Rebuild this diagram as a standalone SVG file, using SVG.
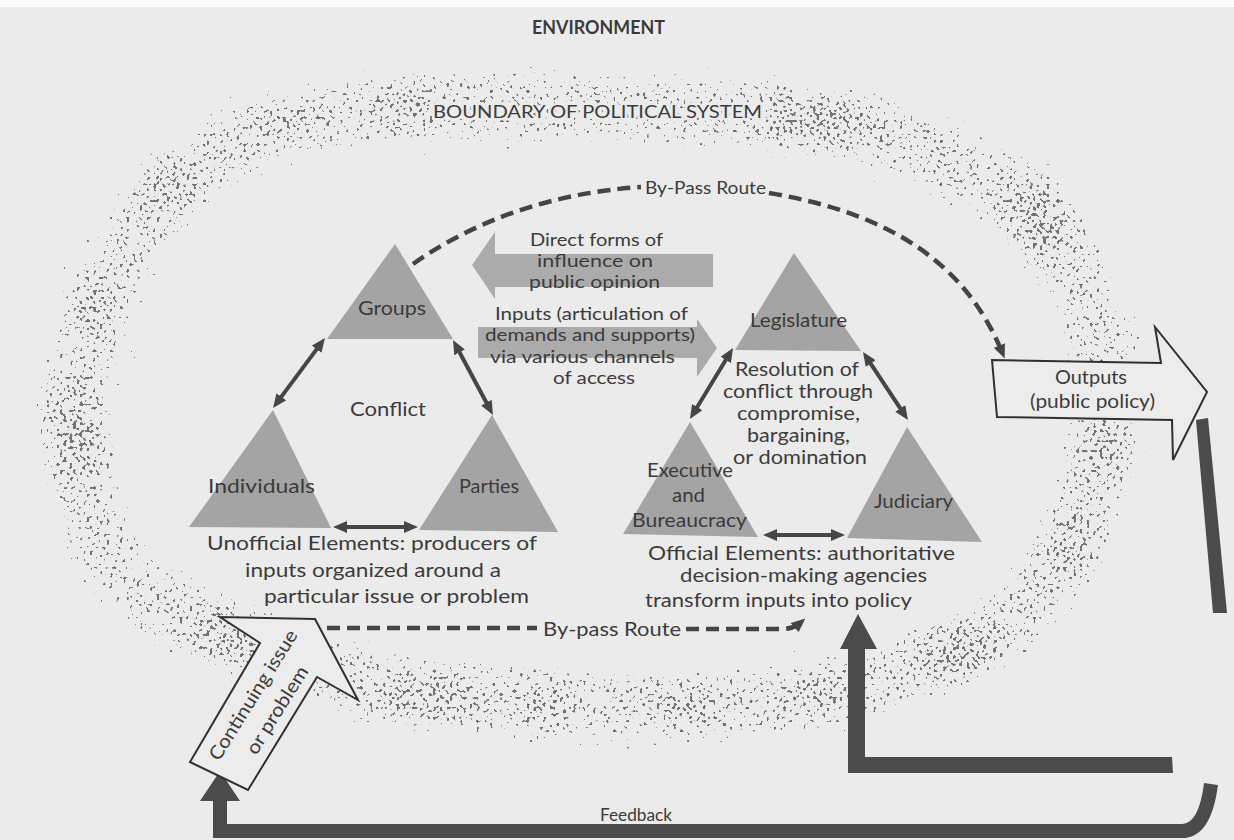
<svg xmlns="http://www.w3.org/2000/svg" width="1234" height="840" viewBox="0 0 1234 840">
<defs>
<style>
.t{font-family:Lato,"Open Sans","Liberation Sans",sans-serif;fill:#3b3b3b;font-size:19px}
.tri{fill:#a4a4a4}
.garr{fill:#ababab}
.dbl{stroke:#464646;stroke-width:4;fill:none;marker-start:url(#ah);marker-end:url(#ah)}
.dash{stroke:#444;stroke-width:4.5;fill:none;stroke-dasharray:13 7}
.hollow{fill:#ececec;stroke:#303030;stroke-width:2;stroke-linejoin:miter}
.dark{fill:#4b4b4b}
.ko{paint-order:stroke;stroke:#ebebeb;stroke-width:5px;stroke-linejoin:round}
</style>
<marker id="ah" markerUnits="userSpaceOnUse" markerWidth="14" markerHeight="12" viewBox="0 0 14 12" refX="7" refY="6" orient="auto-start-reverse">
<path d="M0,0 L14,6 L0,12 Z" fill="#464646"/>
</marker>
<marker id="ahd" markerUnits="userSpaceOnUse" markerWidth="14" markerHeight="12" viewBox="0 0 14 12" refX="7" refY="6" orient="auto">
<path d="M0,0 L14,6 L0,12 Z" fill="#444"/>
</marker>
<filter id="stip" filterUnits="userSpaceOnUse" primitiveUnits="userSpaceOnUse" x="0" y="0" width="1234" height="840">
<feGaussianBlur in="SourceAlpha" stdDeviation="15" result="band"/>
<feTurbulence type="fractalNoise" baseFrequency="0.3" numOctaves="1" seed="7" result="noise"/>
<feColorMatrix in="noise" type="matrix" values="0 0 0 0 0  0 0 0 0 0  0 0 0 0 0  1 0 0 0 0" result="n"/>
<feComposite in="n" in2="band" operator="arithmetic" k1="0" k2="40" k3="16" k4="-35.1" result="dots"/>
<feColorMatrix in="dots" type="matrix" values="0 0 0 0 0.17  0 0 0 0 0.17  0 0 0 0 0.17  0 0 0 1 0"/>
</filter>
</defs>

<rect x="0" y="0" width="1234" height="840" fill="#ebebeb"/>
<rect x="0" y="0" width="1234" height="7" fill="#fbfbfb"/>

<g id="boundary" filter="url(#stip)">
<polygon points="600,108 780,115 900,140 1000,185 1065,250 1100,330 1105,450 1070,550 1020,615 960,650 850,690 700,708 550,705 400,690 300,665 220,635 150,600 110,560 85,500 73,400 100,300 158,200 242,135 350,112 470,107" fill="none" stroke="#000" stroke-opacity="0.6" stroke-width="80" stroke-linejoin="round"/>
<g fill="#000" fill-opacity="0.5">
<ellipse cx="410" cy="105" rx="35" ry="18"/>
<ellipse cx="820" cy="118" rx="65" ry="24"/>
<ellipse cx="1040" cy="215" rx="35" ry="50"/>
<ellipse cx="1100" cy="445" rx="22" ry="32"/>
<ellipse cx="1070" cy="540" rx="25" ry="35"/>
<ellipse cx="960" cy="650" rx="50" ry="25"/>
<ellipse cx="815" cy="695" rx="35" ry="20"/>
<ellipse cx="690" cy="700" rx="35" ry="22"/>
<ellipse cx="545" cy="700" rx="30" ry="20"/>
<ellipse cx="420" cy="700" rx="55" ry="22"/>
<ellipse cx="230" cy="630" rx="40" ry="30"/>
<ellipse cx="75" cy="430" rx="28" ry="50"/>
<ellipse cx="85" cy="305" rx="20" ry="30"/>
<ellipse cx="170" cy="185" rx="30" ry="25"/>
<ellipse cx="290" cy="118" rx="30" ry="15"/>
</g>
</g>

<text class="t" x="532" y="34" textLength="133" lengthAdjust="spacingAndGlyphs" style="font-weight:bold;font-size:18px">ENVIRONMENT</text>
<text class="t ko" x="433" y="118" textLength="329" lengthAdjust="spacingAndGlyphs" style="font-size:18px">BOUNDARY OF POLITICAL SYSTEM</text>

<g id="connectors">
<path class="dash" d="M413,264 Q510,196 641,187"/>
<path class="dash" d="M769,193 C870,210 960,250 1002,352" marker-end="url(#ahd)"/>
<path class="dash" d="M327,628 L537,628"/>
<path class="dash" d="M686,629 L782,629 Q793,629 800,623" marker-end="url(#ahd)"/>
<line class="dbl" x1="320.8" y1="343.6" x2="277.2" y2="402.4"/>
<line class="dbl" x1="456.3" y1="346.2" x2="489.7" y2="408.8"/>
<line class="dbl" x1="340" y1="527" x2="411" y2="527"/>
<line class="dbl" x1="729.4" y1="354" x2="693.6" y2="413"/>
<line class="dbl" x1="866.9" y1="357.8" x2="904.1" y2="414.2"/>
<line class="dbl" x1="770" y1="535" x2="838" y2="535"/>
<polygon class="dark" points="858,614 877,649 865,649 865,757 1172,757 1173,773 848,773 848,649 840,649"/>
<polygon class="dark" points="1196,420 1208,418 1227,613 1213,613"/>
<path d="M1211,784 Q1205,831 1182,831 L220,831 L220,798" fill="none" stroke="#4b4b4b" stroke-width="14" stroke-linejoin="miter"/>
<polygon class="dark" points="220,771 240,801 200,801"/>
<text class="t" x="600" y="821" textLength="72" lengthAdjust="spacingAndGlyphs" style="font-size:17px">Feedback</text>
<text class="t ko" x="645" y="194" textLength="121" lengthAdjust="spacingAndGlyphs" style="font-size:18px">By-Pass Route</text>
<text class="t" x="543" y="636" textLength="138" lengthAdjust="spacingAndGlyphs">By-pass Route</text>
</g>

<g id="direct-influence">
<polygon class="garr" points="472,265 495,232 495,254 713,254 713,287 495,287 495,299"/>
<text class="t" x="530" y="246" textLength="133" lengthAdjust="spacingAndGlyphs" style="font-size:17px">Direct forms of</text>
<text class="t" x="537" y="267" textLength="116" lengthAdjust="spacingAndGlyphs" style="font-size:17px">influence  on</text>
<text class="t" x="529" y="288" textLength="131" lengthAdjust="spacingAndGlyphs" style="font-size:17px">public opinion</text>
</g>

<g id="inputs">
<polygon class="garr" points="478,327 697,327 697,319 717,348 697,377 697,358 478,358"/>
<text class="t" x="495" y="320" textLength="193" lengthAdjust="spacingAndGlyphs" style="font-size:18px">Inputs (articulation of</text>
<text class="t" x="485" y="341" textLength="210" lengthAdjust="spacingAndGlyphs" style="font-size:18px">demands and supports)</text>
<text class="t" x="490" y="363" textLength="185" lengthAdjust="spacingAndGlyphs" style="font-size:18px">via various  channels</text>
<text class="t" x="553" y="384" textLength="82" lengthAdjust="spacingAndGlyphs" style="font-size:18px">of access</text>
</g>

<g id="groups">
<polygon class="tri" points="395,244 453,339 327,339"/>
<text class="t" x="358" y="315" textLength="68" lengthAdjust="spacingAndGlyphs">Groups</text>
</g>

<g id="conflict">
<text class="t" x="350" y="416" textLength="76" lengthAdjust="spacingAndGlyphs">Conflict</text>
</g>

<g id="individuals">
<polygon class="tri" points="273,410 331,528 189,527"/>
<text class="t" x="208" y="493" textLength="107" lengthAdjust="spacingAndGlyphs">Individuals</text>
</g>

<g id="parties">
<polygon class="tri" points="492,415 558,532 419,530"/>
<text class="t" x="459" y="493" textLength="60" lengthAdjust="spacingAndGlyphs">Parties</text>
</g>

<g id="unofficial">
<text class="t" x="207" y="550" textLength="330" lengthAdjust="spacingAndGlyphs" style="font-size:20px">Unofficial Elements: producers of</text>
<text class="t" x="245" y="577" textLength="256" lengthAdjust="spacingAndGlyphs" style="font-size:20px">inputs organized around a</text>
<text class="t" x="264" y="603" textLength="265" lengthAdjust="spacingAndGlyphs" style="font-size:20px">particular issue or problem</text>
</g>

<g id="legislature">
<polygon class="tri" points="794,253 861,351 735,350"/>
<text class="t" x="750" y="327" textLength="97" lengthAdjust="spacingAndGlyphs">Legislature</text>
</g>

<g id="resolution">
<text class="t" x="735" y="376" textLength="124" lengthAdjust="spacingAndGlyphs">Resolution of</text>
<text class="t" x="723" y="398" textLength="150" lengthAdjust="spacingAndGlyphs">conflict through</text>
<text class="t" x="737" y="420" textLength="123" lengthAdjust="spacingAndGlyphs">compromise,</text>
<text class="t" x="747" y="442" textLength="103" lengthAdjust="spacingAndGlyphs">bargaining,</text>
<text class="t" x="733" y="464" textLength="134" lengthAdjust="spacingAndGlyphs">or domination</text>
</g>

<g id="executive">
<polygon class="tri" points="690,422 758,537 623,534"/>
<text class="t" x="647" y="477" textLength="86" lengthAdjust="spacingAndGlyphs">Executive</text>
<text class="t" x="672" y="502" textLength="33" lengthAdjust="spacingAndGlyphs">and</text>
<text class="t" x="632" y="527" textLength="115" lengthAdjust="spacingAndGlyphs">Bureaucracy</text>
</g>

<g id="judiciary">
<polygon class="tri" points="907,427 982,542 847,538"/>
<text class="t" x="874" y="508" textLength="79" lengthAdjust="spacingAndGlyphs">Judiciary</text>
</g>

<g id="official">
<text class="t" x="648" y="560" textLength="307" lengthAdjust="spacingAndGlyphs" style="font-size:20px">Official Elements:  authoritative</text>
<text class="t" x="680" y="582" textLength="247" lengthAdjust="spacingAndGlyphs" style="font-size:20px">decision-making agencies</text>
<text class="t" x="645" y="607" textLength="267" lengthAdjust="spacingAndGlyphs" style="font-size:20px">transform inputs into policy</text>
</g>

<g id="outputs">
<polygon class="hollow" points="992,360 1161,363 1155,327 1207,392 1173,460 1172,420 997,417"/>
<text class="t" x="1055" y="384" textLength="72" lengthAdjust="spacingAndGlyphs">Outputs</text>
<text class="t" x="1030" y="408" textLength="125" lengthAdjust="spacingAndGlyphs">(public policy)</text>
</g>

<g id="continuing-issue">
<polygon class="hollow" points="315,619 358,700 317,677 248,790 190,762 260,643 220,617"/>
<text class="t" x="253" y="695" dy="0.35em" text-anchor="middle" transform="rotate(-58 253 695)" textLength="150" lengthAdjust="spacingAndGlyphs">Continuing issue</text>
<text class="t" x="277" y="710" dy="0.35em" text-anchor="middle" transform="rotate(-58 277 710)" textLength="100" lengthAdjust="spacingAndGlyphs">or problem</text>
</g>
</svg>
